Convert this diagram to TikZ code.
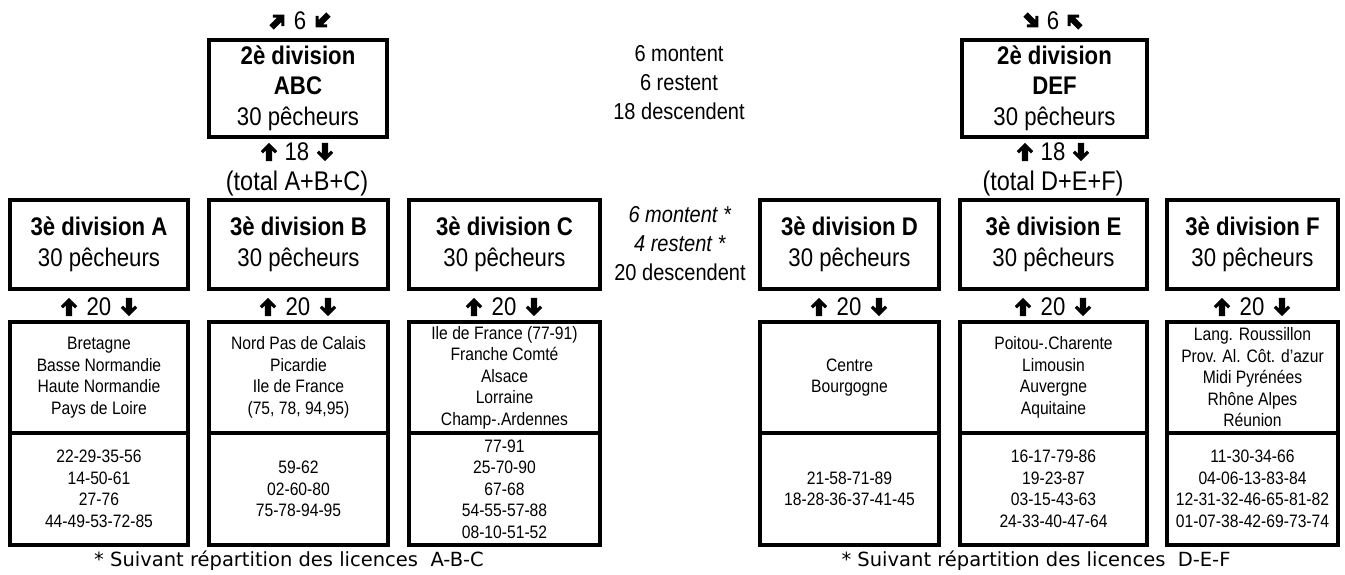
\documentclass[tikz,border=0pt]{standalone}
\usepackage{fontspec}
\setmainfont{Liberation Sans}
\newfontfamily\nf{Liberation Sans}[FakeStretch=0.87]
\newfontfamily\cf{DejaVu Sans}
\usetikzlibrary{calc}
\tikzset{
  divbox/.style={draw, line width=4pt, inner sep=0pt, align=center, font=\nf\fontsize{25.5}{30.5}\selectfont},
  subbox/.style={draw, line width=3.5pt, inner sep=0pt, align=center, font=\nf\fontsize{18}{21.5}\selectfont},
  lbl/.style={inner sep=0pt, font=\nf\fontsize{25.5}{30}\selectfont},
  totlbl/.style={inner sep=0pt, font=\nf\fontsize{27}{30}\selectfont},
  midtxt/.style={inner sep=0pt, align=center, font=\nf\fontsize{23}{29}\selectfont},
  foot/.style={inner sep=0pt, font=\cf\fontsize{19.5}{22}\selectfont},
  barr/.pic={\fill[scale=1.3] (0,-7) -- (6.3,-0.7) -- (4.6,1) -- (2.4,-1.2) -- (2.4,7) -- (-2.4,7) -- (-2.4,-1.2) -- (-4.6,1) -- (-6.3,-0.7) -- cycle;}
}
\begin{document}
\begin{tikzpicture}[x=1pt,y=-1pt]
\useasboundingbox (0,0) rectangle (1345,574);
% ---------- left group ----------
\node[divbox, minimum width=178, minimum height=97] (abc) at (298,88) {\textbf{2è division}\\\textbf{ABC}\\30 pêcheurs};
\node[lbl] (sixL) at (300,21) {6};
\pic[rotate=-45] at ($(sixL)+(-22,0)$) {barr};
\pic[rotate=135] at ($(sixL)+(22,0)$) {barr};
\node[lbl] (eiL) at (297,152) {18};
\pic at ($(eiL)+(-28,0)$) {barr};
\pic[rotate=180] at ($(eiL)+(28,0)$) {barr};
\node[totlbl] (totL) at (297,184) {(total A+B+C)};

\node[divbox, minimum width=178, minimum height=89] (dA) at (99,244.5) {\textbf{3è division A}\\30 pêcheurs};
\node[divbox, minimum width=179, minimum height=89] (dB) at (298.5,244.5) {\textbf{3è division B}\\30 pêcheurs};
\node[divbox, minimum width=191, minimum height=89] (dC) at (504.5,244.5) {\textbf{3è division C}\\30 pêcheurs};

\foreach \n/\x in {A/99,B/298,C/504}{
  \node[lbl] (tw\n) at (\x,307) {20};
  \pic at ($(tw\n)+(-30,0)$) {barr};
  \pic[rotate=180] at ($(tw\n)+(30,0)$) {barr};
}

\node[subbox, minimum width=178, minimum height=111] (rA) at (99,377.5) {Bretagne\\Basse Normandie\\Haute Normandie\\Pays de Loire};
\node[subbox, minimum width=178, minimum height=112] (nA) at (99,489) {22-29-35-56\\14-50-61\\27-76\\44-49-53-72-85};
\node[subbox, minimum width=179, minimum height=111] (rB) at (298.5,377.5) {Nord Pas de Calais\\Picardie\\Ile de France\\(75, 78, 94,95)};
\node[subbox, minimum width=179, minimum height=112] (nB) at (298.5,489) {59-62\\02-60-80\\75-78-94-95};
\node[subbox, minimum width=191, minimum height=111] (rC) at (504.5,377.5) {Ile de France (77-91)\\Franche Comté\\Alsace\\Lorraine\\Champ-.Ardennes};
\node[subbox, minimum width=191, minimum height=112] (nC) at (504.5,489) {77-91\\25-70-90\\67-68\\54-55-57-88\\08-10-51-52};

\node[foot] (fL) at (289,561) {* Suivant répartition des licences\ \ A-B-C};

% ---------- middle texts ----------
\node[midtxt] (m1) at (679,83) {6 montent\\6 restent\\18 descendent};
\node[midtxt] (m2) at (680,244) {\textit{6 montent *}\\\textit{4 restent *}\\20 descendent};

% ---------- right group ----------
\node[divbox, minimum width=185, minimum height=97] (def) at (1054.5,88) {\textbf{2è division}\\\textbf{DEF}\\30 pêcheurs};
\node[lbl] (sixR) at (1053,21) {6};
\pic[rotate=-135] at ($(sixR)+(-21,0)$) {barr};
\pic[rotate=45] at ($(sixR)+(21,0)$) {barr};
\node[lbl] (eiR) at (1053,152) {18};
\pic at ($(eiR)+(-28,0)$) {barr};
\pic[rotate=180] at ($(eiR)+(28,0)$) {barr};
\node[totlbl] (totR) at (1053,184) {(total D+E+F)};

\node[divbox, minimum width=179, minimum height=89] (dD) at (849.5,244.5) {\textbf{3è division D}\\30 pêcheurs};
\node[divbox, minimum width=187, minimum height=89] (dE) at (1053.5,244.5) {\textbf{3è division E}\\30 pêcheurs};
\node[divbox, minimum width=171, minimum height=89] (dF) at (1252.5,244.5) {\textbf{3è division F}\\30 pêcheurs};

\foreach \n/\x in {D/849,E/1053,F/1252}{
  \node[lbl] (tw\n) at (\x,307) {20};
  \pic at ($(tw\n)+(-30,0)$) {barr};
  \pic[rotate=180] at ($(tw\n)+(30,0)$) {barr};
}

\node[subbox, minimum width=179, minimum height=111] (rD) at (849.5,377.5) {Centre\\Bourgogne};
\node[subbox, minimum width=179, minimum height=112] (nD) at (849.5,489) {21-58-71-89\\18-28-36-37-41-45};
\node[subbox, minimum width=187, minimum height=111] (rE) at (1053.5,377.5) {Poitou-.Charente\\Limousin\\Auvergne\\Aquitaine};
\node[subbox, minimum width=187, minimum height=112] (nE) at (1053.5,489) {16-17-79-86\\19-23-87\\03-15-43-63\\24-33-40-47-64};
\node[subbox, minimum width=171, minimum height=111] (rF) at (1252.5,377.5) {Lang. Roussillon\\Prov. Al. Côt. d’azur\\Midi Pyrénées\\Rhône Alpes\\Réunion};
\node[subbox, minimum width=171, minimum height=112] (nF) at (1252.5,489) {11-30-34-66\\04-06-13-83-84\\12-31-32-46-65-81-82\\01-07-38-42-69-73-74};

\node[foot] (fR) at (1036,561) {* Suivant répartition des licences\ \ D-E-F};
\end{tikzpicture}
\end{document}
